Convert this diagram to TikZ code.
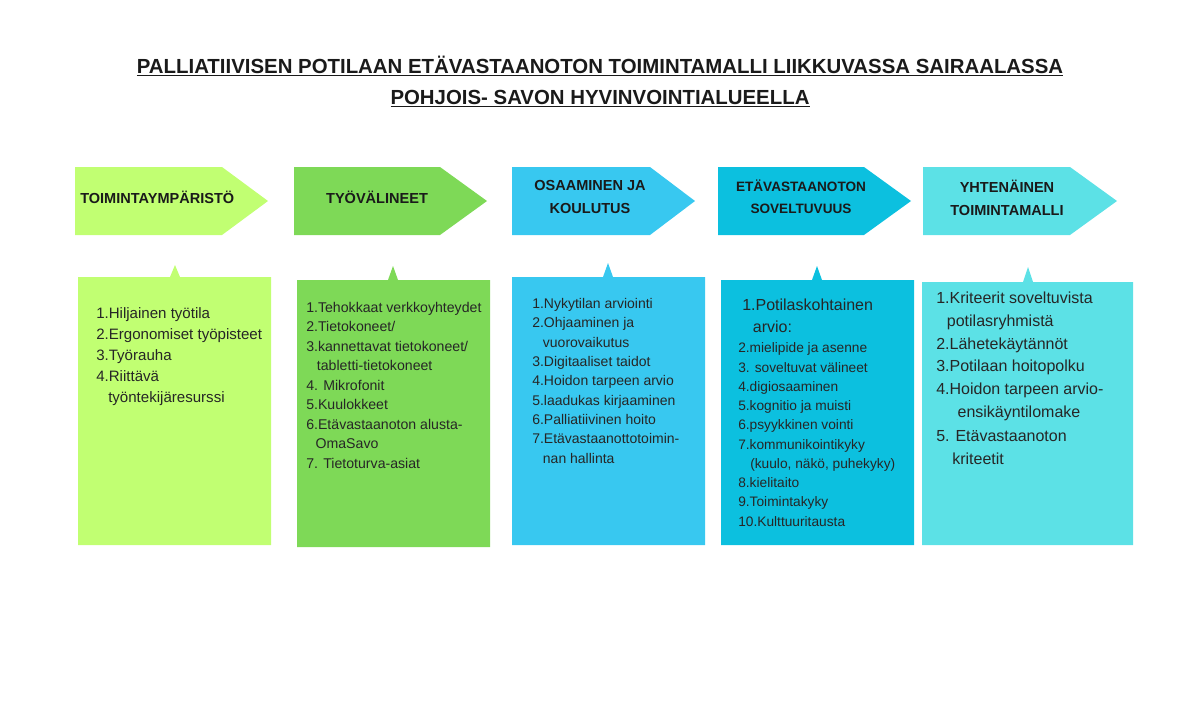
\documentclass[tikz,border=0pt]{standalone}
\usepackage{fontspec}
\setmainfont{Liberation Sans}
\usetikzlibrary{positioning}

\definecolor{limeA}{HTML}{C1FF72}
\definecolor{greenB}{HTML}{7ED957}
\definecolor{skyC}{HTML}{38C8F0}
\definecolor{tealD}{HTML}{0CC0DF}
\definecolor{aquaE}{HTML}{5CE1E6}
\definecolor{inkdark}{HTML}{1A1A1A}
\definecolor{inkbox}{HTML}{262626}

\begin{document}
\begin{tikzpicture}[x=0.75pt, y=-0.75pt,
    titletext/.style={anchor=base, inner sep=0pt, text=inkdark,
      font=\fontsize{15.3}{18}\selectfont\bfseries},
    headtext/.style={inner sep=0pt, text=inkdark, align=center,
      font=\fontsize{10.9}{17}\selectfont\bfseries},
    listtext/.style={anchor=north west, inner sep=0pt, text=inkbox, align=left}]
  % Page
  \useasboundingbox (0,0) rectangle (1200,715);

  % Title
  \node[titletext] (ttl1) at (600,73)
    {\underline{PALLIATIIVISEN POTILAAN ETÄVASTAANOTON TOIMINTAMALLI LIIKKUVASSA SAIRAALASSA}};
  \node[titletext] (ttl2) at (600,104) {\underline{POHJOIS- SAVON HYVINVOINTIALUEELLA}};

  % Arrows
  \fill[limeA]  (75,167)  -- (222,167)  -- (268,201)  -- (222,235)  -- (75,235)  -- cycle;
  \fill[greenB] (294,167) -- (440,167)  -- (487,201)  -- (440,235)  -- (294,235) -- cycle;
  \fill[skyC]   (512,167) -- (650,167)  -- (695,201)  -- (650,235)  -- (512,235) -- cycle;
  \fill[tealD]  (718,167) -- (864,167)  -- (911,201)  -- (864,235)  -- (718,235) -- cycle;
  \fill[aquaE]  (923,167) -- (1070,167) -- (1117,201) -- (1070,235) -- (923,235) -- cycle;

  % Arrow labels
  \node[headtext, anchor=west] (hd1) at (80,197) {TOIMINTAYMPÄRISTÖ};
  \node[headtext] (hd2) at (377,197) {TYÖVÄLINEET};
  \node[headtext] (hd3) at (590,197) {OSAAMINEN JA\\KOULUTUS};
  \node[headtext, font=\fontsize{10.2}{16.5}\selectfont\bfseries] (hd4) at (801,197) {ETÄVASTAANOTON\\SOVELTUVUUS};
  \node[headtext] (hd5) at (1007,198) {YHTENÄINEN\\TOIMINTAMALLI};

  % Boxes with a notch on top
  \fill[limeA]  (78,277)  -- (170,277)  -- (175,265)  -- (180,277)  -- (271,277)  -- (271,545)  -- (78,545)  -- cycle;
  \fill[greenB] (297,280) -- (388,280)  -- (393,266)  -- (398,280)  -- (490,280)  -- (490,547)  -- (297,547) -- cycle;
  \fill[skyC]   (512,277) -- (603,277)  -- (608,263)  -- (613,277)  -- (705,277)  -- (705,545)  -- (512,545) -- cycle;
  \fill[tealD]  (721,280) -- (812,280)  -- (817,266)  -- (822,280)  -- (914,280)  -- (914,545)  -- (721,545) -- cycle;
  \fill[aquaE]  (922,282) -- (1023,282) -- (1028,267) -- (1033,282) -- (1133,282) -- (1133,545) -- (922,545) -- cycle;

  % Lists
  \node[listtext, font=\fontsize{11.3}{15.75}\selectfont] (ls1) at (96,307)
    {1.Hiljainen työtila\\
     2.Ergonomiset työpisteet\\
     3.Työrauha\\
     4.Riittävä\\
     \hspace*{9pt}työntekijäresurssi};
  \node[listtext, font=\fontsize{10.6}{14.6}\selectfont] (ls2) at (306,302)
    {1.Tehokkaat verkkoyhteydet\\
     2.Tietokoneet/\\
     3.kannettavat tietokoneet/\\
     \hspace*{8pt}tabletti-tietokoneet\\
     4. Mikrofonit\\
     5.Kuulokkeet\\
     6.Etävastaanoton alusta-\\
     \hspace*{7pt}OmaSavo\\
     7. Tietoturva-asiat};
  \node[listtext, font=\fontsize{10.5}{14.5}\selectfont] (ls3) at (532,298)
    {1.Nykytilan arviointi\\
     2.Ohjaaminen ja\\
     \hspace*{8pt}vuorovaikutus\\
     3.Digitaaliset taidot\\
     4.Hoidon tarpeen arvio\\
     5.laadukas kirjaaminen\\
     6.Palliatiivinen hoito\\
     7.Etävastaanottotoimin-\\
     \hspace*{8pt}nan hallinta};
  \node[listtext, font=\fontsize{10.3}{14.45}\selectfont] (ls4) at (738,299)
    {{\fontsize{12}{16}\selectfont\hspace*{3pt}1.Potilaskohtainen}\\[1.9pt]
     {\fontsize{12}{16}\selectfont\hspace*{11pt}arvio:}\\[0.6pt]
     2.mielipide ja asenne\\
     3. soveltuvat välineet\\
     4.digiosaaminen\\
     5.kognitio ja muisti\\
     6.psyykkinen vointi\\
     7.kommunikointikyky\\
     \hspace*{9pt}(kuulo, näkö, puhekyky)\\
     8.kielitaito\\
     9.Toimintakyky\\
     10.Kulttuuritausta};
  \node[listtext, font=\fontsize{12}{17}\selectfont] (ls5) at (936,292)
    {1.Kriteerit soveltuvista\\
     \hspace*{8pt}potilasryhmistä\\
     2.Lähetekäytännöt\\
     3.Potilaan hoitopolku\\
     4.Hoidon tarpeen arvio-\\
     \hspace*{16pt}ensikäyntilomake\\[1.5pt]
     5. Etävastaanoton\\
     \hspace*{12pt}kriteetit};
\end{tikzpicture}
\end{document}
